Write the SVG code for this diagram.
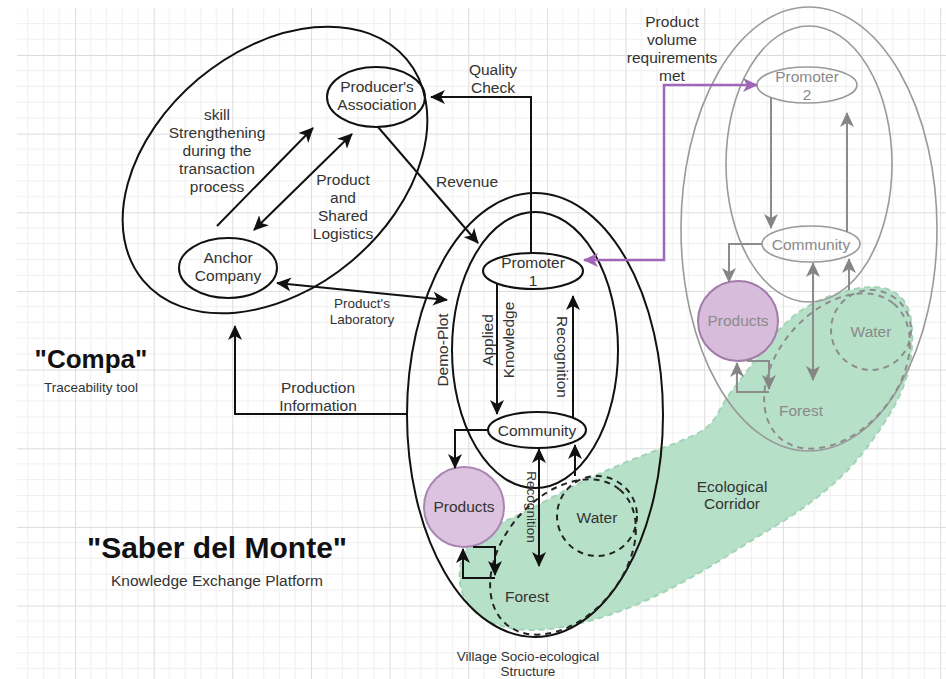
<svg xmlns="http://www.w3.org/2000/svg" width="946" height="679" viewBox="0 0 946 679">
  <style>
    .t { font-family: "Liberation Sans", Arial, sans-serif; font-size: 15.5px; fill: #333; text-anchor: middle; }
    .s { font-size: 13.5px; }
    .g { fill: #8a8a8a; }
    .ttl { font-family: "Liberation Sans", Arial, sans-serif; font-weight: bold; fill: #111; text-anchor: middle; }
    .ln { fill: none; stroke: #111; stroke-width: 2; }
    .gl { fill: none; stroke: #8c8c8c; stroke-width: 2; }
    .gs { fill: none; stroke: #9a9a9a; stroke-width: 1.6; }
    .dash { fill: none; stroke: #222; stroke-width: 2; stroke-dasharray: 6 5; }
    .gdash { fill: none; stroke: #8c8c8c; stroke-width: 2; stroke-dasharray: 6 5; }
    .prod { fill: #dcc3df; stroke: #aa86b2; stroke-width: 2; }
    .prod2 { fill: #d8bcdb; stroke: #a07ca8; stroke-width: 2; }
    .ea { marker-end: url(#ab); }
    .da { marker-start: url(#ab); marker-end: url(#ab); }
    .eg { marker-end: url(#ag); }
    .dg { marker-start: url(#ag); marker-end: url(#ag); }
  </style>
  <defs>
    <pattern id="grid" patternUnits="userSpaceOnUse" x="-3.65" y="-23.65" width="78.65" height="78.65">
      <path d="M15.73 0V78.65M31.46 0V78.65M47.19 0V78.65M62.92 0V78.65M0 15.73H78.65M0 31.46H78.65M0 47.19H78.65M0 62.92H78.65" stroke="#efefef" stroke-width="1"/>
      <path d="M0.5 0V78.65M0 0.5H78.65" stroke="#dcdcdc" stroke-width="1"/>
    </pattern>
    <marker id="ab" viewBox="0 0 15 14" refX="14" refY="7" markerWidth="15" markerHeight="14" markerUnits="userSpaceOnUse" orient="auto-start-reverse">
      <path d="M0,0 L15,7 L0,14 L4,7 Z" fill="#111"/>
    </marker>
    <marker id="ag" viewBox="0 0 15 14" refX="14" refY="7" markerWidth="15" markerHeight="14" markerUnits="userSpaceOnUse" orient="auto-start-reverse">
      <path d="M0,0 L15,7 L0,14 L4,7 Z" fill="#858585"/>
    </marker>
    <marker id="ap" viewBox="0 0 15 14" refX="14" refY="7" markerWidth="15" markerHeight="14" markerUnits="userSpaceOnUse" orient="auto-start-reverse">
      <path d="M0,0 L15,7 L0,14 L4,7 Z" fill="#a066b8"/>
    </marker>
  </defs>

  <!-- canvas -->
  <rect width="946" height="679" fill="#fff"/>
  <rect x="17" y="8" width="929" height="671" fill="url(#grid)"/>

  <!-- ecological corridor -->
  <g id="ecological-corridor">
    <path d="M476,612.5 Q462,600 460,582.5 Q458,565 466,548.5 Q474,532 494.5,525 Q515,518 547.5,500 Q580,482 609,469.5 Q638,457 664,447.5 Q690,438 701,431.5 Q712,425 719,411.5 Q726,398 737,384 Q748,370 767.5,344 Q787,318 808.5,306 Q830,294 855,289 Q880,284 894,292 Q908,300 911,320 Q914,340 910,362.5 Q906,385 894,406.5 Q882,428 865,450 Q848,472 825,491 Q802,510 777,525 Q752,540 727,556 Q702,572 673.5,587 Q645,602 617.5,612 Q590,622 562.5,627 Q535,632 512.5,628.5 Q490,625 476,612.5 Z" fill="#b7e0c9" stroke="#a3d3b6" stroke-width="2" stroke-dasharray="6 4"/>
    <text class="t" x="732" y="492">Ecological<tspan x="732" dy="17">Corridor</tspan></text>
  </g>

  <!-- Compa: traceability tool -->
  <g id="compa">
    <ellipse class="ln" cx="275" cy="170" rx="172" ry="119" transform="rotate(-40 275 170)"/>
    <text class="ttl" x="91" y="368" font-size="26">"Compa"</text>
    <text class="t s" x="91" y="392">Traceability tool</text>
  </g>
  <g id="producers-association">
    <ellipse class="ln" cx="376" cy="97" rx="49" ry="30"/>
    <text class="t" x="377" y="92">Producer's<tspan x="377" dy="18">Association</tspan></text>
  </g>
  <g id="anchor-company">
    <ellipse class="ln" cx="228" cy="268" rx="49" ry="30"/>
    <text class="t" x="228" y="263">Anchor<tspan x="228" dy="18">Company</tspan></text>
  </g>

  <!-- Saber del Monte: village 1 -->
  <g id="village-1">
    <ellipse class="ln" cx="535" cy="415" rx="128" ry="222"/>
    <text class="t s" x="528" y="661">Village Socio-ecological<tspan x="528" dy="15">Structure</tspan></text>
    <text class="t" transform="translate(443 350) rotate(-90)" y="5">Demo-Plot</text>
  </g>
  <g id="knowledge-ring-1">
    <ellipse class="ln" cx="535" cy="350" rx="83" ry="138"/>
  </g>
  <g id="promoter-1">
    <ellipse class="ln" cx="533" cy="271" rx="50" ry="18"/>
    <text class="t" x="533" y="268">Promoter<tspan x="533" dy="18">1</tspan></text>
  </g>
  <g id="community-1">
    <ellipse class="ln" cx="537" cy="430" rx="49" ry="18"/>
    <text class="t" x="537" y="436">Community</text>
  </g>
  <g id="products-1">
    <circle class="prod" cx="464" cy="507" r="40"/>
    <text class="t" x="464" y="512">Products</text>
  </g>
  <g id="water-1">
    <circle class="dash" cx="597" cy="516" r="40"/>
    <text class="t" x="597" y="523">Water</text>
  </g>
  <g id="forest-1">
    <ellipse class="dash" cx="563" cy="557" rx="88" ry="60" transform="rotate(-50 563 557)"/>
    <text class="t" x="527" y="602">Forest</text>
  </g>

  <!-- village 2 (greyed) -->
  <g id="village-2">
    <ellipse class="gs" cx="809" cy="229" rx="128" ry="222"/>
  </g>
  <g id="knowledge-ring-2">
    <ellipse class="gs" cx="809" cy="164" rx="83" ry="138"/>
  </g>
  <g id="promoter-2">
    <ellipse class="gs" cx="807" cy="85" rx="50" ry="18"/>
    <text class="t g" x="807" y="82">Promoter<tspan x="807" dy="18">2</tspan></text>
  </g>
  <g id="community-2">
    <ellipse class="gs" cx="811" cy="244" rx="49" ry="18"/>
    <text class="t g" x="811" y="250">Community</text>
  </g>
  <g id="products-2">
    <circle class="prod2" cx="738" cy="321" r="40"/>
    <text class="t g" x="738" y="326">Products</text>
  </g>
  <g id="water-2">
    <circle class="gdash" cx="871" cy="330" r="40"/>
    <text class="t g" x="871" y="337">Water</text>
  </g>
  <g id="forest-2">
    <ellipse class="gdash" cx="837" cy="371" rx="88" ry="60" transform="rotate(-50 837 371)"/>
    <text class="t g" x="801" y="416">Forest</text>
  </g>

  <!-- connectors -->
  <g id="connectors">
    <path class="ln ea" d="M531,253 V97 H431"/>
    <path class="ln ea" d="M378,127 L478,243"/>
    <path class="ln ea" d="M217,226 L313,128"/>
    <path class="ln da" d="M254,230 L352,134"/>
    <path class="ln da" d="M277,283 L447,300"/>
    <path class="ln ea" d="M407,414 H235 V326"/>
    <path class="ln ea" d="M497,284 V414"/>
    <path class="ln ea" d="M573,418 V296"/>
    <path class="ln ea" d="M488,430 H455 V468"/>
    <path class="ln da" d="M539,449 V566"/>
    <path class="ln ea" d="M575,476 V445"/>
    <path class="ln ea" d="M473,547 H495 V575"/>
    <path class="ln ea" d="M495,578 H463 V549"/>

    <path fill="none" stroke="#a066b8" stroke-width="2.5" marker-start="url(#ap)" marker-end="url(#ap)" d="M584,260 H664 V85 H757"/>

    <path class="gl eg" d="M771,98 V228"/>
    <path class="gl eg" d="M847,232 V113"/>
    <path class="gl eg" d="M762,244 H729 V282"/>
    <path class="gl dg" d="M813,263 V380"/>
    <path class="gl eg" d="M849,290 V259"/>
    <path class="gl eg" d="M747,361 H769 V389"/>
    <path class="gl eg" d="M769,392 H737 V363"/>

    <text class="t" x="217" y="120">skill<tspan x="217" dy="18">Strengthening</tspan><tspan x="217" dy="18">during the</tspan><tspan x="217" dy="18">transaction</tspan><tspan x="217" dy="18">process</tspan></text>
    <text class="t" x="343" y="185">Product<tspan x="343" dy="18">and</tspan><tspan x="343" dy="18">Shared</tspan><tspan x="343" dy="18">Logistics</tspan></text>
    <text class="t" x="493" y="75">Quality<tspan x="493" dy="18">Check</tspan></text>
    <text class="t" x="467" y="187">Revenue</text>
    <text class="t s" x="362" y="308">Product's<tspan x="362" dy="16">Laboratory</tspan></text>
    <text class="t" x="318" y="393">Production<tspan x="318" dy="18">Information</tspan></text>
    <text class="t" x="672" y="27">Product<tspan x="672" dy="18">volume</tspan><tspan x="672" dy="18">requirements</tspan><tspan x="672" dy="18">met</tspan></text>
    <text class="t" transform="translate(497.5 340) rotate(-90)" y="-5">Applied<tspan x="0" dy="21">Knowledge</tspan></text>
    <text class="t" transform="translate(562 357) rotate(90)" y="5.5">Recognition</text>
    <text class="t s" transform="translate(532 507) rotate(90)" y="5">Recognition</text>
  </g>

  <!-- platform title -->
  <g id="saber-del-monte">
    <text class="ttl" x="217" y="558" font-size="30">"Saber del Monte"</text>
    <text class="t" x="217" y="586">Knowledge Exchange Platform</text>
  </g>
</svg>
